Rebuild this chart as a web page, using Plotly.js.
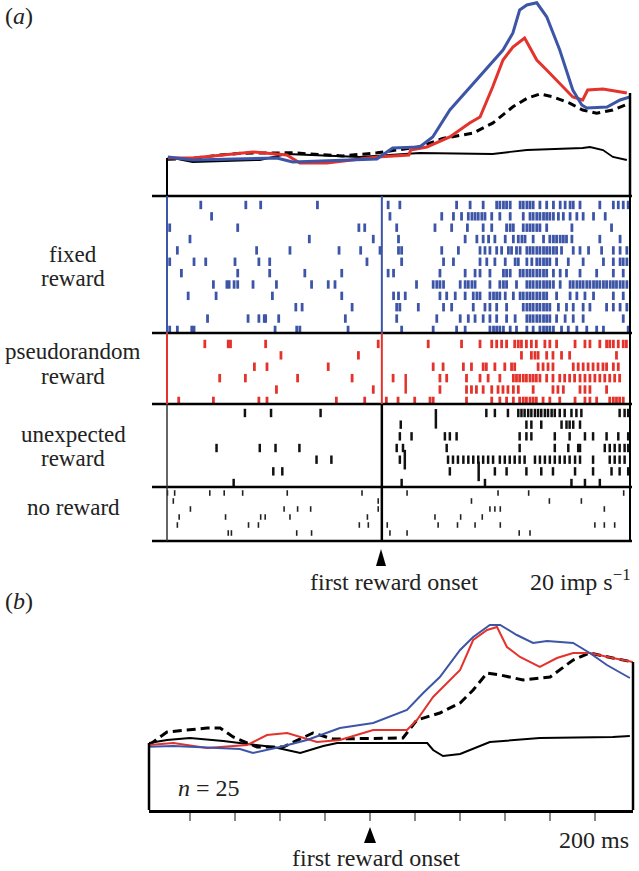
<!DOCTYPE html>
<html>
<head>
<meta charset="utf-8">
<script src="https://cdn.plot.ly/plotly-3.0.1.min.js"></script>
<style>html,body{margin:0;padding:0;background:#fff}</style>
</head>
<body>
<div id="chart" style="width:639px;height:871px"></div>
<script>
// times in ms relative to first reward onset, rates in imp/s
const rangeA = [-477, 551];
const rangeB = [-491, 584];
const ticksB = [-400, -300, -200, -100, 0, 100, 200, 300, 400, 500];

// (a) single neuron PSTH
const tBlueA = [-475, -420, -233, -198, -11, 24, 84, 113, 151, 211, 269, 291, 306, 322, 344, 366, 395, 424, 444, 455, 500, 529, 551];
const rateBlueA = [9.75, 9, 9.5, 8.5, 9.25, 12, 12.25, 14.75, 21.5, 29, 36.5, 40.75, 46.5, 47.75, 48.3, 44.8, 36.5, 26.5, 22.75, 22, 22.25, 24, 24.75];
const tRedA = [-475, -420, -286, -211, -182, -122, -11, 60, 64, 100, 151, 195, 218, 246, 269, 291, 317, 344, 366, 395, 424, 446, 457, 491, 544];
const rateRedA = [9.5, 9.5, 11, 10.25, 8.25, 8.25, 9.75, 10.25, 11.5, 12.25, 14.75, 18.25, 19.75, 27.25, 34, 37.25, 39.5, 34, 31.5, 28.25, 24.75, 24, 26.5, 26.75, 25.75];
const tDashA = [-475, -420, -360, -309, -198, -87, -11, 84, 135, 202, 246, 269, 291, 322, 351, 380, 417, 446, 477, 513, 551];
const rateDashA = [9.2, 9.4, 10.25, 10.7, 10.8, 10, 10.8, 12.3, 14.4, 15.7, 18.2, 20.25, 22.3, 24.4, 25.5, 24.8, 23.2, 21.5, 20.7, 21.5, 23.2];
const tNoneA = [-475, -420, -271, -211, -49, 84, 246, 322, 446, 462, 491, 513, 544];
const rateNoneA = [9.75, 8.5, 9, 10.5, 9.75, 10.75, 10.5, 11.5, 12, 12.25, 11.5, 9.75, 9];

// (b) population PSTH, n = 25
const tBlueB = [-490, -437, -289, -260, -200, -140, -67, 7, 82, 118, 155, 200, 229, 266, 289, 326, 362, 393, 451, 488, 526, 577];
const rateBlueB = [15.8, 16, 15.25, 14.25, 15.75, 17.5, 20.5, 21.75, 25, 29.25, 33.25, 40, 43.25, 46.25, 46.25, 43.75, 41.75, 42.25, 41.75, 39.25, 36.25, 33];
const tRedB = [-491, -437, -362, -273, -229, -184, -118, -67, 7, 82, 104, 140, 200, 229, 260, 282, 304, 333, 377, 415, 451, 488, 539, 584];
const rateRedB = [16.25, 16.75, 15.5, 16.25, 18.75, 19.25, 17, 17.5, 20, 20, 22.5, 28.25, 35, 42.5, 45, 45.75, 40.75, 38.25, 35.75, 38, 39.25, 39.25, 38, 37];
const tDashB = [-491, -451, -362, -333, -304, -251, -193, -127, -82, 7, 73, 104, 155, 200, 229, 260, 289, 340, 400, 451, 488, 539, 584];
const rateDashB = [16.25, 19.5, 20.5, 20.5, 18.25, 15.75, 15.75, 19.25, 17.75, 18, 18, 22.5, 24.25, 26.75, 30, 34.25, 33.75, 32.5, 33.25, 37.5, 39.25, 38, 37];
const tNoneB = [-491, -451, -400, -326, -215, -155, -104, -73, 127, 140, 162, 200, 266, 377, 539, 577];
const rateNoneB = [16.75, 17.5, 18, 17.25, 15.75, 14.25, 16, 16.75, 16.75, 15, 13.5, 14, 17, 18, 18.25, 18.5];

// rasters: spike times per trial
const fixedRows = [
  [-402, -302, -269, -143, 14, 40, 166, 196, 225, 255, 262, 270, 277, 285, 307, 314, 322, 329, 336, 351, 366, 381, 396, 407, 418, 425, 440, 484, 514, 525, 536, 547],
  [-378, 18, 133, 159, 177, 192, 200, 207, 214, 222, 229, 244, 262, 285, 314, 329, 336, 344, 351, 359, 366, 373, 381, 392, 403, 418, 433, 447, 470, 496],
  [-471, -320, -51, -38, 33, 118, 155, 190, 225, 244, 277, 285, 292, 314, 322, 329, 336, 344, 351, 366, 422, 510],
  [-426, -161, -19, 37, 185, 211, 225, 237, 251, 274, 292, 303, 311, 318, 336, 359, 373, 381, 388, 396, 403, 410, 422, 484, 529],
  [-454, -278, -204, -95, -47, -4, 37, 44, 133, 170, 218, 229, 240, 255, 266, 281, 288, 299, 307, 322, 329, 336, 344, 351, 359, 366, 373, 381, 388, 399, 425, 440, 459, 488, 514, 529, 544],
  [-471, -417, -391, -326, -273, -249, -33, 44, 137, 159, 218, 233, 251, 274, 296, 303, 322, 333, 344, 351, 359, 366, 373, 388, 414, 447, 492, 514, 529, 536, 544],
  [-445, -320, -249, -171, -89, 14, 26, 129, 185, 207, 218, 240, 270, 277, 285, 307, 314, 322, 329, 336, 344, 351, 359, 366, 381, 396, 410, 440, 477, 514, 536],
  [-374, -344, -339, -328, -320, -286, -234, -156, -119, -104, 77, 114, 122, 129, 137, 174, 185, 192, 200, 207, 240, 262, 270, 277, 299, 322, 329, 336, 344, 351, 359, 366, 373, 381, 396, 418, 425, 433, 440, 447, 455, 462, 470, 477, 484, 492, 499, 507, 514, 521, 529, 536, 544],
  [-430, -368, -243, -89, 26, 37, 52, 129, 144, 163, 185, 203, 211, 218, 240, 248, 255, 262, 274, 292, 307, 314, 322, 329, 336, 344, 351, 359, 366, 388, 418, 433, 451, 470, 514, 536],
  [-191, -177, -66, 33, 40, 81, 137, 155, 203, 229, 240, 255, 277, 314, 322, 329, 336, 344, 351, 359, 366, 373, 392, 410, 425, 447, 462, 499, 514, 529, 544],
  [-387, -297, -273, -261, -258, -229, -81, 33, 122, 174, 192, 207, 225, 240, 255, 277, 296, 322, 329, 336, 344, 351, 359, 366, 373, 388, 407, 425, 447, 536],
  [-471, -454, -422, -417, -237, -189, -182, -75, 44, 114, 166, 185, 240, 248, 255, 262, 270, 285, 299, 322, 336, 351, 359, 366, 373, 381, 399, 414, 433, 455, 477, 492, 547]
];
const pseudoRows = [
  [-393, -341, -336, -258, -8, 103, 177, 218, 244, 255, 266, 277, 295, 303, 310, 321, 332, 343, 362, 373, 388, 429, 451, 462, 484, 499, 506, 514, 525, 536, 543],
  [-224, -52, 310, 332, 340, 347, 366, 380, 399, 417, 521],
  [-283, -255, -119, 114, 136, 181, 199, 225, 232, 251, 273, 288, 295, 347, 358, 369, 380, 425, 436, 447, 458, 469, 480, 491, 499, 514, 525],
  [-360, -303, -187, -66, 25, 129, 144, 188, 218, 236, 262, 292, 299, 306, 314, 321, 329, 336, 343, 351, 366, 380, 395, 406, 417, 428, 440, 451, 462, 473, 484, 495, 506, 517, 528],
  [-234, -19, 129, 188, 199, 210, 225, 244, 258, 269, 280, 292, 303, 336, 380, 391, 403, 440, 451, 462, 499],
  [-451, -374, -273, -255, -101, -38, 10, 36, 73, 107, 114, 188, 244, 262, 277, 292, 306, 314, 321, 329, 336, 343, 358, 373, 395, 429, 451, 462, 477, 506, 514, 521, 528, 536]
];
const pseudoLongT = [53];
const pseudoLongRow = [4.5];
const unexpRows = [
  [-304, -246, -136, 232, 251, 280, 303, 310, 317, 325, 332, 340, 347, 354, 362, 369, 377, 384, 395, 406, 421, 432, 443, 528, 539, 547],
  [42, 321, 332, 354, 399, 410, 417, 425, 440],
  [40, 66, 140, 151, 166, 306, 321, 332, 384, 417, 451, 469, 499, 525, 547],
  [-367, -271, -236, -183, 33, 47, 144, 306, 384, 414, 436, 440, 495, 506, 517, 528, 539, 547],
  [-145, -112, 40, 147, 158, 169, 181, 192, 203, 214, 225, 236, 247, 262, 273, 284, 295, 306, 317, 340, 351, 362, 373, 384, 395, 406, 417, 429, 440, 469, 506, 517, 528, 539],
  [-241, -221, 151, 251, 277, 321, 354, 380, 429, 469, 510, 528, 547],
  [-329, 44, 229, 421, 451, 484]
];
const unexpLongT = [120, 51, 215];
const unexpLongRow = [1.5, 5, 6];
const noRewardRows = [
  [-476, -460, -382, -350, -309, -210, -44, 56, 258, 326, 537],
  [-463, -8, 199, 372, 443],
  [-425, -217, -187, -158, -8, 240, 251, 263, 494],
  [-450, -347, -269, -259, -204, -32, 118, 175, 223],
  [-454, -296, -274, -50, -30, 12, 125, 168, 207, 263, 473, 494, 517],
  [-341, -334, -189, -156, 18, 56, 305, 329]
];

const BLUE = '#3d55a7';
const RED = '#e3332c';
const FONT = '"Liberation Serif", "DejaVu Serif", serif';

// pixel helpers for layout positions
const W = 639, H = 871;
const X = p => p / W;
const Y = p => 1 - p / H;

const rasterTrace = (rows, yaxis, color, size, width) => {
  const xs = [], ys = [];
  rows.forEach((row, i) => row.forEach(t => { xs.push(t); ys.push(i + 1); }));
  return {
    x: xs, y: ys, xaxis: 'x', yaxis: yaxis, mode: 'markers', type: 'scatter',
    marker: { symbol: 'line-ns', size: size, line: { color: color, width: width } },
    hoverinfo: 'skip'
  };
};
const longTrace = (ts, rows, yaxis, color) => ({
  x: ts, y: rows, xaxis: 'x', yaxis: yaxis, mode: 'markers', type: 'scatter',
  marker: { symbol: 'line-ns', size: 14, line: { color: color, width: 2.5 } }
});
const line = (t, r, xa, ya, color, width, dash) => ({
  x: t, y: r, xaxis: xa, yaxis: ya, mode: 'lines', type: 'scatter',
  line: { color: color, width: width, dash: dash || 'solid' }
});

const data = [
  line(tNoneA, rateNoneA, 'x', 'y', '#000', 1.8),
  line(tDashA, rateDashA, 'x', 'y', '#000', 3, '8px,5px'),
  line(tRedA, rateRedA, 'x', 'y', RED, 3),
  line(tBlueA, rateBlueA, 'x', 'y', BLUE, 3),
  rasterTrace(fixedRows, 'y2', BLUE, 6, 2.8),
  rasterTrace(pseudoRows, 'y3', RED, 6, 2.8),
  longTrace(pseudoLongT, pseudoLongRow, 'y3', RED),
  rasterTrace(unexpRows, 'y4', '#111', 6, 2.5),
  longTrace(unexpLongT, unexpLongRow, 'y4', '#111'),
  rasterTrace(noRewardRows, 'y5', '#222', 4, 1.6),
  line(tNoneB, rateNoneB, 'x2', 'y6', '#000', 2),
  line(tDashB, rateDashB, 'x2', 'y6', '#000', 3, '9px,5px'),
  line(tRedB, rateRedB, 'x2', 'y6', RED, 2),
  line(tBlueB, rateBlueB, 'x2', 'y6', BLUE, 2)
];

const hidden = { visible: false, showgrid: false, zeroline: false, fixedrange: true };
const sepY = [196, 333, 404, 487, 541];
const shapes = [];
sepY.forEach(p => shapes.push({ type: 'line', xref: 'paper', yref: 'paper', x0: X(152), x1: X(632), y0: Y(p), y1: Y(p), line: { color: '#000', width: 2.5 } }));
const sectionColors = [BLUE, RED, '#333', '#333'];
for (let i = 0; i < 4; i++) {
  shapes.push({ type: 'line', xref: 'paper', yref: 'paper', x0: X(167), x1: X(167), y0: Y(sepY[i]), y1: Y(sepY[i + 1]), line: { color: sectionColors[i], width: i < 2 ? 2 : 1.5 } });
  shapes.push({ type: 'line', xref: 'x', yref: 'paper', x0: 0, x1: 0, y0: Y(sepY[i]), y1: Y(sepY[i + 1]), line: { color: i < 2 ? sectionColors[i] : '#000', width: i < 2 ? 2 : 2.5 } });
}
shapes.push({ type: 'line', xref: 'paper', yref: 'paper', x0: X(630), x1: X(630), y0: Y(196), y1: Y(541), line: { color: '#000', width: 2 } });
// PSTH box stubs
shapes.push({ type: 'line', xref: 'paper', yref: 'y', x0: X(167), x1: X(167), y0: 0, y1: rateRedA[0], line: { color: '#000', width: 2 } });
shapes.push({ type: 'line', xref: 'paper', yref: 'y', x0: X(630), x1: X(630), y0: 0, y1: rateRedA[rateRedA.length - 1], line: { color: '#000', width: 2.5 } });
shapes.push({ type: 'line', xref: 'paper', yref: 'y6', x0: X(149), x1: X(149), y0: 0, y1: rateNoneB[0], line: { color: '#000', width: 2.5 } });
shapes.push({ type: 'line', xref: 'paper', yref: 'y6', x0: X(633), x1: X(633), y0: 0, y1: rateRedB[rateRedB.length - 1], line: { color: '#000', width: 2.5 } });
// onset arrowheads
const tri = (cx, top, w, h) => `M ${X(cx)},${Y(top)} L ${X(cx - w / 2)},${Y(top + h)} L ${X(cx + w / 2)},${Y(top + h)} Z`;
shapes.push({ type: 'path', xref: 'paper', yref: 'paper', path: tri(381, 549, 10, 17), fillcolor: '#000', line: { width: 0 } });
shapes.push({ type: 'path', xref: 'paper', yref: 'paper', path: tri(370, 827, 12, 16), fillcolor: '#000', line: { width: 0 } });

const txt = (text, px, py, size, anchor) => ({
  text: text, x: X(px), y: Y(py), xref: 'paper', yref: 'paper', showarrow: false,
  xanchor: anchor || 'center', yanchor: 'middle', font: { family: FONT, size: size || 24, color: '#222' }
});
const annotations = [
  txt('(<i>a</i>)', 3, 16, 24, 'left'),
  txt('(<i>b</i>)', 3, 601, 24, 'left'),
  txt('fixed', 73, 254, 23), txt('reward', 73, 278, 23),
  txt('pseudorandom', 73, 352, 23), txt('reward', 73, 376, 23),
  txt('unexpected', 73, 434, 23), txt('reward', 73, 458, 23),
  txt('no reward', 73, 507, 23),
  txt('first reward onset', 394, 582),
  txt('20 imp s<sup>\u22121</sup>', 633, 580, 24, 'right'),
  txt('<i>n</i> = 25', 209, 788),
  txt('200 ms', 594, 840),
  txt('first reward onset', 376, 858)
];

const layout = {
  width: W, height: H,
  margin: { l: 0, r: 0, t: 0, b: 0 },
  paper_bgcolor: '#fff', plot_bgcolor: 'rgba(0,0,0,0)',
  showlegend: false,
  xaxis: Object.assign({}, hidden, { domain: [X(167), X(630)], range: rangeA, anchor: 'y' }),
  yaxis: Object.assign({}, hidden, { domain: [Y(196), 1], range: [0, 49], anchor: 'x' }),
  yaxis2: Object.assign({}, hidden, { domain: [Y(333), Y(196)], range: [12.27, 0.21], anchor: 'x' }),
  yaxis3: Object.assign({}, hidden, { domain: [Y(404), Y(333)], range: [6.27, 0.04], anchor: 'x' }),
  yaxis4: Object.assign({}, hidden, { domain: [Y(487), Y(404)], range: [7.34, 0.23], anchor: 'x' }),
  yaxis5: Object.assign({}, hidden, { domain: [Y(541), Y(487)], range: [7.0, 0.25], anchor: 'x' }),
  xaxis2: {
    domain: [X(149), X(633)], range: rangeB, anchor: 'y6',
    showline: true, linecolor: '#000', linewidth: 2.5, mirror: false,
    ticks: 'outside', tickvals: ticksB, ticklen: 8, tickwidth: 2, tickcolor: '#888',
    showticklabels: false, showgrid: false, zeroline: false, fixedrange: true
  },
  yaxis6: Object.assign({}, hidden, { domain: [Y(810), Y(610)], range: [0, 50], anchor: 'x2' }),
  shapes: shapes,
  annotations: annotations
};

Plotly.newPlot('chart', data, layout, { staticPlot: true, displayModeBar: false });
</script>
</body>
</html>
